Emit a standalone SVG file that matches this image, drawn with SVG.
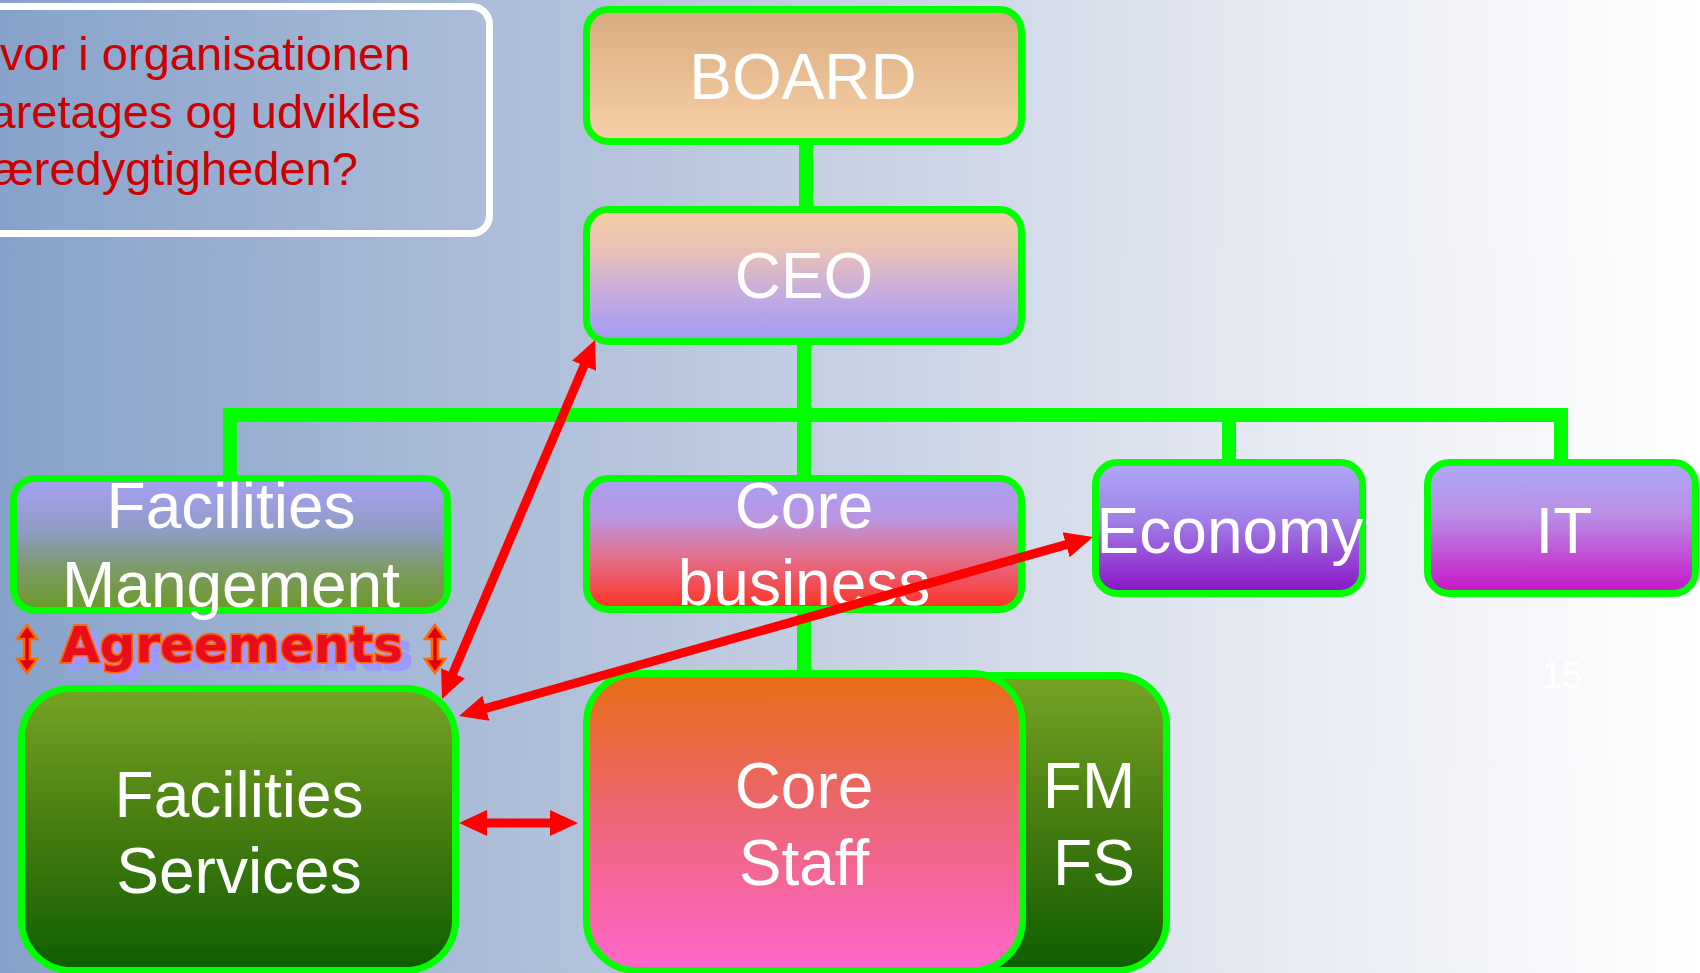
<svg xmlns="http://www.w3.org/2000/svg" width="1700" height="973" viewBox="0 0 1700 973">
<defs>
<linearGradient id="bg" x1="0" y1="0" x2="1" y2="0">
<stop offset="0" stop-color="#87a2ca"/><stop offset="0.45" stop-color="#c0cce0"/><stop offset="0.75" stop-color="#e6eaf2"/><stop offset="1" stop-color="#ffffff"/>
</linearGradient>
<linearGradient id="gBoard" x1="0" y1="0" x2="0" y2="1"><stop offset="0" stop-color="#d9ab7f"/><stop offset="1" stop-color="#f7d0a7"/></linearGradient>
<linearGradient id="gCeo" x1="0" y1="0" x2="0" y2="1"><stop offset="0" stop-color="#f4cca4"/><stop offset="0.3" stop-color="#eac2b4"/><stop offset="0.65" stop-color="#c4abe0"/><stop offset="1" stop-color="#a29bf7"/></linearGradient>
<linearGradient id="gFm" x1="0" y1="0" x2="0" y2="1"><stop offset="0" stop-color="#a6a0f5"/><stop offset="0.4" stop-color="#8f9cc4"/><stop offset="0.7" stop-color="#7b9a62"/><stop offset="1" stop-color="#6a9a28"/></linearGradient>
<linearGradient id="gCb" x1="0" y1="0" x2="0" y2="1"><stop offset="0" stop-color="#a8a0f4"/><stop offset="0.3" stop-color="#b896e2"/><stop offset="0.6" stop-color="#e2708e"/><stop offset="1" stop-color="#ff3020"/></linearGradient>
<linearGradient id="gEco" x1="0" y1="0" x2="0" y2="1"><stop offset="0" stop-color="#aeaaf8"/><stop offset="0.45" stop-color="#a07ee6"/><stop offset="1" stop-color="#8a12c6"/></linearGradient>
<linearGradient id="gIt" x1="0" y1="0" x2="0" y2="1"><stop offset="0" stop-color="#aeaaf8"/><stop offset="0.4" stop-color="#b98ee6"/><stop offset="1" stop-color="#c814c8"/></linearGradient>
<linearGradient id="gGreen" x1="0" y1="0" x2="0" y2="1"><stop offset="0" stop-color="#76a424"/><stop offset="0.5" stop-color="#467c10"/><stop offset="1" stop-color="#0e5e00"/></linearGradient>
<linearGradient id="gCs" x1="0" y1="0" x2="0" y2="1"><stop offset="0" stop-color="#e86c14"/><stop offset="0.45" stop-color="#ec6670"/><stop offset="1" stop-color="#ff66cc"/></linearGradient>
<filter id="shadow" x="-10%" y="-30%" width="130%" height="170%">
<feOffset in="SourceAlpha" dx="9" dy="7" result="off"/>
<feFlood flood-color="#9a9aff"/>
<feComposite in2="off" operator="in" result="sh"/>
<feMerge><feMergeNode in="sh"/><feMergeNode in="SourceGraphic"/></feMerge>
</filter>
<marker id="ah" markerUnits="userSpaceOnUse" markerWidth="30" markerHeight="28" viewBox="0 -14 30 28" refX="2" refY="0" orient="auto-start-reverse">
<path d="M0,-13 L28,0 L0,13 z" fill="#ff0000"/>
</marker>
<style>
.node{stroke:#00ff00;stroke-width:7}
.lbl{font-family:"Liberation Sans",Arial,sans-serif;font-size:64px;fill:#ffffff;text-anchor:middle}
.conn{stroke:#00ff00;stroke-width:14;fill:none}
.arr{stroke:#ff0000;stroke-width:9;fill:none;marker-start:url(#ah);marker-end:url(#ah)}
.q{font-family:"Liberation Sans",Arial,sans-serif;font-size:47px;fill:#cc0000}
.agr{font-family:"DejaVu Sans","Liberation Sans",sans-serif;font-weight:bold;font-size:49px}
.sm{fill:#e0000a;stroke:#ff6a00;stroke-width:2.5}
</style>
</defs>
<rect x="0" y="0" width="1700" height="973" fill="url(#bg)"/>

<g id="question">
<rect x="-20" y="6.5" width="509.5" height="227" rx="18" fill="none" stroke="#ffffff" stroke-width="7"/>
<text class="q" x="0" y="70">vor i organisationen</text>
<text class="q" x="-10.5" y="128">aretages og udvikles</text>
<text class="q" x="-8" y="185">æredygtigheden?</text>
</g>

<g id="connectors">
<line class="conn" x1="806" y1="140" x2="806" y2="212"/>
<line class="conn" x1="804" y1="340" x2="804" y2="680"/>
<path class="conn" d="M230 480 V415 H1561 V465"/>
<line class="conn" x1="1229" y1="415" x2="1229" y2="465"/>
</g>

<g id="board"><rect class="node" x="586.5" y="9.5" width="435" height="132" rx="22" fill="url(#gBoard)"/><text class="lbl" x="803" y="99">BOARD</text></g>
<g id="ceo"><rect class="node" x="586.5" y="209.5" width="435" height="132" rx="22" fill="url(#gCeo)"/><text class="lbl" x="804" y="298">CEO</text></g>
<g id="fm"><rect class="node" x="13.5" y="478.5" width="434" height="132" rx="22" fill="url(#gFm)"/><text class="lbl" x="231" y="528">Facilities</text><text class="lbl" x="231" y="607">Mangement</text></g>
<g id="corebusiness"><rect class="node" x="586.5" y="478.5" width="435" height="131" rx="22" fill="url(#gCb)"/><text class="lbl" x="804" y="528">Core</text><text class="lbl" x="804" y="605">business</text></g>
<g id="economy"><rect class="node" x="1095.5" y="462.5" width="267" height="131" rx="22" fill="url(#gEco)"/><text class="lbl" x="1230" y="553">Economy</text></g>
<g id="it"><rect class="node" x="1427.5" y="462.5" width="268" height="131" rx="22" fill="url(#gIt)"/><text class="lbl" x="1564" y="553">IT</text></g>
<g id="fs"><rect class="node" x="21.5" y="688.5" width="434" height="282" rx="50" fill="url(#gGreen)"/><text class="lbl" x="239" y="817">Facilities</text><text class="lbl" x="239" y="893">Services</text></g>
<g id="fmfs"><rect class="node" x="700" y="675.5" width="466.5" height="295" rx="50" fill="url(#gGreen)"/><text class="lbl" x="1089" y="808">FM</text><text class="lbl" x="1094" y="885">FS</text></g>
<g id="corestaff"><rect class="node" x="586.5" y="673.5" width="436" height="297" rx="50" fill="url(#gCs)"/><text class="lbl" x="804" y="808">Core</text><text class="lbl" x="804" y="885">Staff</text></g>

<g id="arrows">
<line class="arr" x1="452.2" y1="675.1" x2="584.8" y2="363.9"/>
<line class="arr" x1="484" y1="708.9" x2="1068" y2="544.1"/>
<line class="arr" x1="485" y1="823" x2="552" y2="823"/>
</g>

<g id="agreements">
<path class="sm" d="M27 625 L37 639 L30 639 L30 659 L37 659 L27 673 L17 659 L24 659 L24 639 L17 639 Z"/>
<path class="sm" d="M435 625 L445 639 L438 639 L438 659 L445 659 L435 673 L425 659 L432 659 L432 639 L425 639 Z"/>
<text class="agr" x="232" y="662" text-anchor="middle" textLength="342" lengthAdjust="spacingAndGlyphs" fill="#e8101e" stroke="#ff6600" stroke-width="3.5" paint-order="stroke" filter="url(#shadow)">Agreements</text>
</g>

<text x="1562" y="688" font-family="Liberation Sans, Arial, sans-serif" font-size="36" fill="#ffffff" text-anchor="middle">15</text>
</svg>
